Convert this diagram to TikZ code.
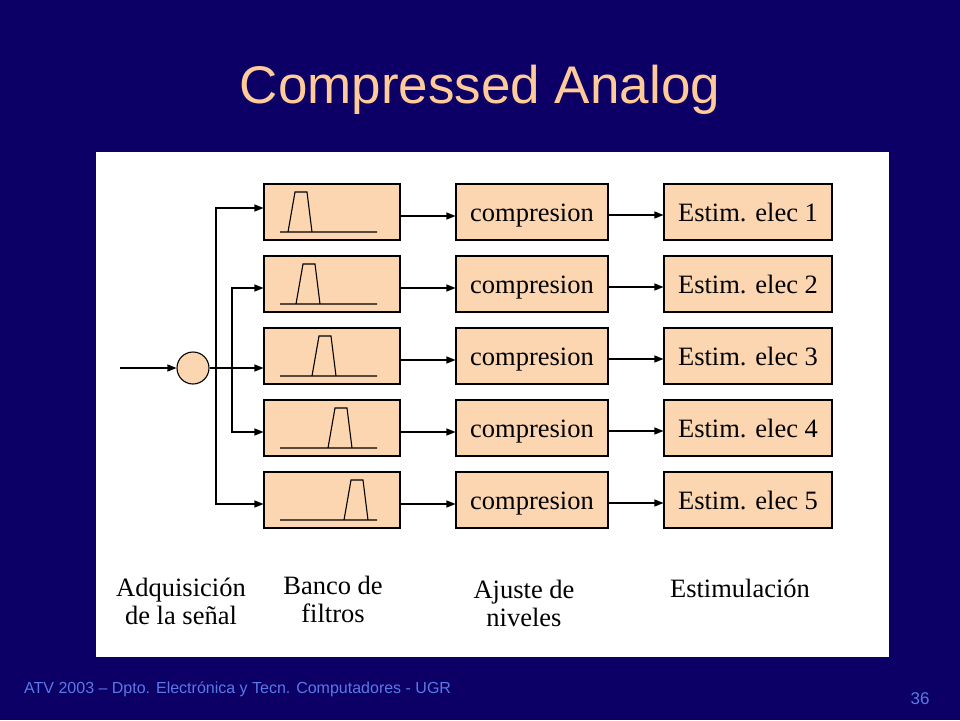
\documentclass[tikz,border=0pt]{standalone}
\usepackage{fontspec}
\setmainfont{Liberation Serif}
\newfontfamily\arialfont{Liberation Sans}
\usetikzlibrary{arrows.meta}
\definecolor{fondo}{RGB}{12,0,102}
\definecolor{melocoton}{RGB}{252,214,176}
\definecolor{titulo}{RGB}{255,204,153}
\definecolor{pie}{RGB}{90,120,230}
\tikzset{caja/.style={draw, fill=melocoton, line width=1.1pt, minimum height=56pt, inner sep=0pt, text height=18pt, text depth=0pt, font=\fontsize{26.5}{30}\selectfont},
	flecha/.style={-{Triangle[length=9pt,width=7pt]}, line width=1.1pt},
	filtro/.style={line width=1.1pt},
	etiqueta/.style={align=center, font=\fontsize{26.5}{28}\selectfont}}
\begin{document}
\begin{tikzpicture}[x=1pt, y=-1pt]
				\useasboundingbox (0,0) rectangle (960,720);
				\fill[fondo] (0,0) rectangle (960,720);
				\fill[white] (96,152) rectangle (889,657);
				\node[text=titulo, font=\arialfont\fontsize{53}{60}\selectfont, anchor=base] (tit) at (480,103) {Compressed Analog};
				% Banco de filtros
				\node[caja, minimum width=136pt] (f1) at (332,212) {};
				\node[caja, minimum width=136pt] (f2) at (332,284) {};
				\node[caja, minimum width=136pt] (f3) at (332,356) {};
				\node[caja, minimum width=136pt] (f4) at (332,428) {};
				\node[caja, minimum width=136pt] (f5) at (332,500) {};
				\draw[filtro, shift={(f1.center)}] (-52,20) -- (45,20) (-44,20) -- (-37,-20) -- (-25,-20) -- (-20,20);
				\draw[filtro, shift={(f2.center)}] (-52,20) -- (45,20) (-36,20) -- (-29,-20) -- (-17,-20) -- (-12,20);
				\draw[filtro, shift={(f3.center)}] (-52,20) -- (45,20) (-20,20) -- (-13,-20) -- (-1,-20) -- (4,20);
				\draw[filtro, shift={(f4.center)}] (-52,20) -- (45,20) (-4,20) -- (3,-20) -- (15,-20) -- (20,20);
				\draw[filtro, shift={(f5.center)}] (-52,20) -- (45,20) (12,20) -- (19,-20) -- (31,-20) -- (36,20);
				% Ajuste de niveles
				\node[caja, minimum width=152pt] (c1) at (532,212) {compresion};
				\node[caja, minimum width=152pt] (c2) at (532,284) {compresion};
				\node[caja, minimum width=152pt] (c3) at (532,356) {compresion};
				\node[caja, minimum width=152pt] (c4) at (532,428) {compresion};
				\node[caja, minimum width=152pt] (c5) at (532,500) {compresion};
				% Estimulacion
				\node[caja, minimum width=168pt] (e1) at (748,212) {Estim. elec 1};
				\node[caja, minimum width=168pt] (e2) at (748,284) {Estim. elec 2};
				\node[caja, minimum width=168pt] (e3) at (748,356) {Estim. elec 3};
				\node[caja, minimum width=168pt] (e4) at (748,428) {Estim. elec 4};
				\node[caja, minimum width=168pt] (e5) at (748,500) {Estim. elec 5};
				% Adquisicion
				\coordinate (ent) at (120,368);
				\node[circle, draw, fill=melocoton, line width=1.1pt, minimum size=32pt, inner sep=0pt] (suma) at (193,368) {};
				\draw[flecha] (ent) -- (suma);
				\draw[flecha] (suma) -- (suma -| f3.west);
				\coordinate (r1) at (216,368);
				\coordinate (r2) at (232,368);
				\draw[flecha] (r1) |- ([yshift=4pt]f1.west);
				\draw[flecha] (r1) |- ([yshift=-4pt]f5.west);
				\draw[flecha] (r2) |- ([yshift=-4pt]f2.west);
				\draw[flecha] (r2) |- ([yshift=-4pt]f4.west);
				\draw[flecha] ([yshift=-4pt]f1.east) -- ([yshift=-4pt]c1.west);
				\draw[flecha] ([yshift=-4pt]f2.east) -- ([yshift=-4pt]c2.west);
				\draw[flecha] ([yshift=-4pt]f3.east) -- ([yshift=-4pt]c3.west);
				\draw[flecha] ([yshift=-4pt]f4.east) -- ([yshift=-4pt]c4.west);
				\draw[flecha] ([yshift=-4pt]f5.east) -- ([yshift=-4pt]c5.west);
				\draw[flecha] ([yshift=-3pt]c1.east) -- ([yshift=-3pt]e1.west);
				\draw[flecha] ([yshift=-3pt]c2.east) -- ([yshift=-3pt]e2.west);
				\draw[flecha] ([yshift=-3pt]c3.east) -- ([yshift=-3pt]e3.west);
				\draw[flecha] ([yshift=-3pt]c4.east) -- ([yshift=-3pt]e4.west);
				\draw[flecha] ([yshift=-3pt]c5.east) -- ([yshift=-3pt]e5.west);
				% Etiquetas
				\node[etiqueta] (adq) at (181,601) {Adquisición\\de la señal};
				\node[etiqueta] (banco) at (333,599) {Banco de\\filtros};
				\node[etiqueta] (ajuste) at (524,603) {Ajuste de\\niveles};
				\node[etiqueta] (estim) at (740,588) {Estimulación};
				\node[anchor=base west, inner sep=0pt, text=pie, font=\arialfont\fontsize{16}{18}\selectfont] (pie) at (24,693) {ATV 2003 – Dpto. Electrónica y Tecn. Computadores - UGR};
				\node[anchor=base, inner sep=0pt, text=pie, font=\arialfont\fontsize{17}{18}\selectfont] (num) at (920,704) {36};
			\end{tikzpicture}
\end{document}
